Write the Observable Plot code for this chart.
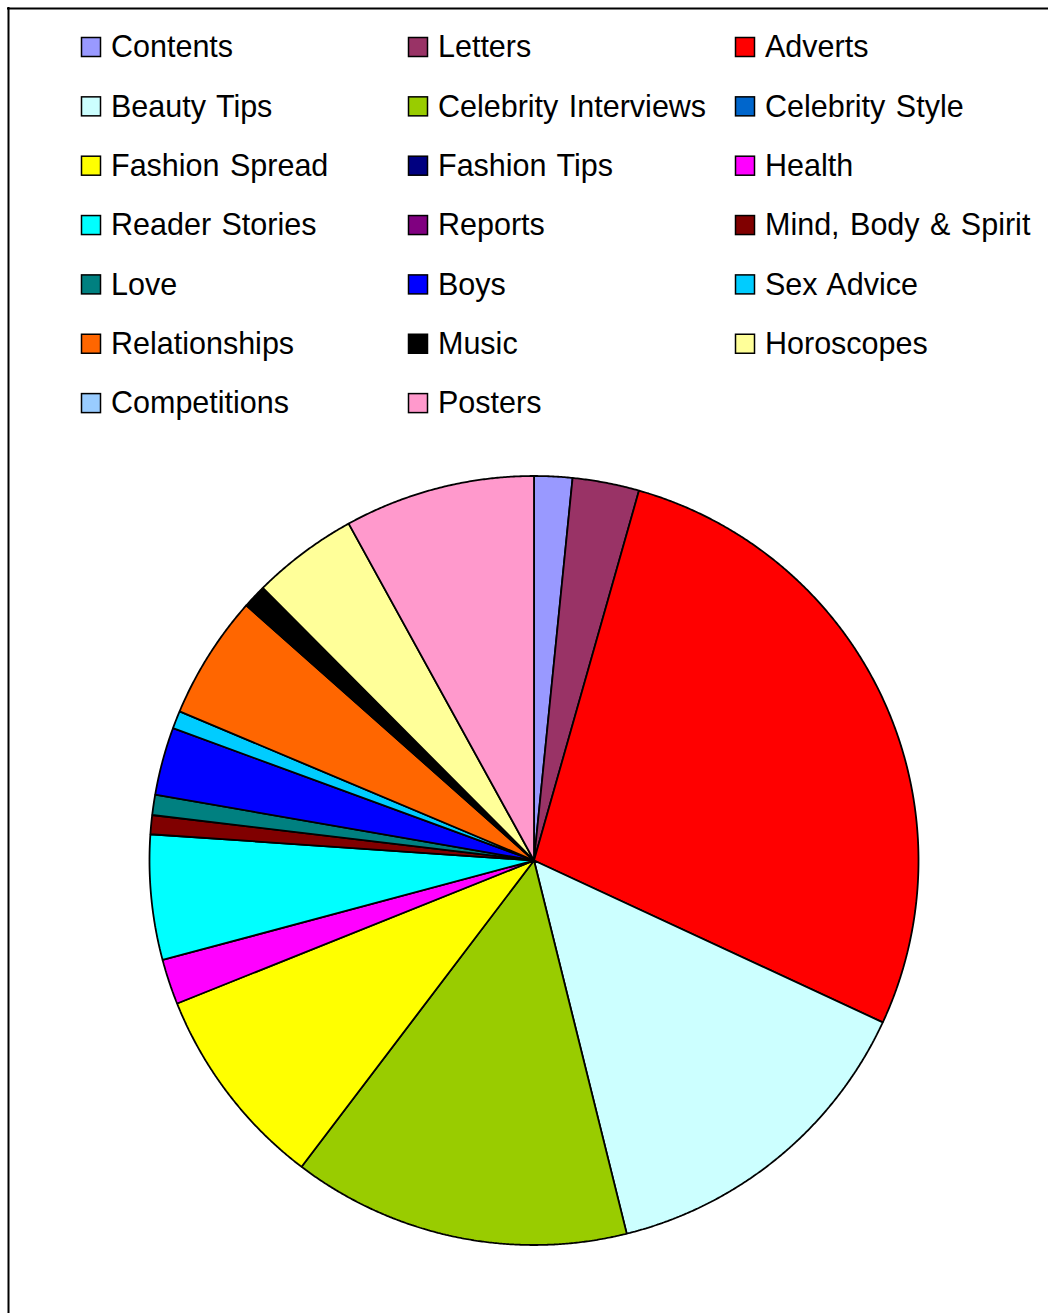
<!DOCTYPE html>
<html>
<head>
<meta charset="utf-8">
<script src="https://cdn.jsdelivr.net/npm/d3@7"></script>
<script src="https://cdn.jsdelivr.net/npm/@observablehq/plot@0.6"></script>
<style>
  html, body { margin: 0; padding: 0; background: #fff; }
  #chart svg { display: block; }
  #chart svg text { word-spacing: 2px; }
</style>
</head>
<body>
<div id="chart"></div>
<script>
// ---- data ----
const categories = [
  "Contents", "Letters", "Adverts",
  "Beauty Tips", "Celebrity Interviews", "Celebrity Style",
  "Fashion Spread", "Fashion Tips", "Health",
  "Reader Stories", "Reports", "Mind, Body & Spirit",
  "Love", "Boys", "Sex Advice",
  "Relationships", "Music", "Horoscopes",
  "Competitions", "Posters"
];
const values = [
  1.6, 2.8, 27.5,
  14.2, 14.2, 0,
  8.6, 0, 1.9,
  5.25, 0, 0.8,
  0.85, 2.85, 0.75,
  5.2, 1.0, 4.45,
  0, 8.0
];
const palette = [
  "#9999FF", "#993366", "#FF0000",
  "#CCFFFF", "#99CC00", "#0066CC",
  "#FFFF00", "#000080", "#FF00FF",
  "#00FFFF", "#800080", "#800000",
  "#008080", "#0000FF", "#00CCFF",
  "#FF6600", "#000000", "#FFFF99",
  "#99CCFF", "#FF99CC"
];

// ---- layout ----
const W = 1048, H = 1313;
const cx = 533.5, cy = 860, R = 384.5;
const font = "'Liberation Sans', Arial, sans-serif";

const table = categories.map((name, i) => ({name, value: values[i]}));
const arcs = d3.pie().sort(null).value(d => d.value)(table);

const slicePts = [];
for (const a of arcs) {
  if (a.endAngle - a.startAngle <= 0) continue;
  const name = a.data.name;
  slicePts.push({name, x: cx, y: cy});
  const n = Math.max(2, Math.ceil((a.endAngle - a.startAngle) / (Math.PI / 720)));
  for (let k = 0; k <= n; k++) {
    const t = a.startAngle + (a.endAngle - a.startAngle) * k / n;
    slicePts.push({name, x: cx + R * Math.sin(t), y: cy - R * Math.cos(t)});
  }
  slicePts.push({name, x: cx, y: cy});
}

const colSw = i => 91 + 327 * (i % 3);
const rowY = i => 47 + 59.35 * Math.floor(i / 3);
const sw = 9.5;

const chart = Plot.plot({
  width: W,
  height: H,
  margin: 0,
  x: {domain: [0, W], range: [0, W], axis: null},
  y: {domain: [0, H], range: [0, H], axis: null},
  color: {type: "ordinal", domain: categories, range: palette},
  style: {background: "#fff"},
  marks: [
    Plot.ruleX([8], {y1: 7, y2: H, stroke: "black", strokeWidth: 2}),
    Plot.ruleY([8], {x1: 7, x2: W, stroke: "black", strokeWidth: 2}),
    Plot.line(slicePts, {
      x: "x", y: "y", z: "name", fill: "name",
      stroke: "black", strokeWidth: 1.8, strokeLinejoin: "miter"
    }),
    Plot.rect(categories, {
      x1: (d, i) => colSw(i) - sw, x2: (d, i) => colSw(i) + sw,
      y1: (d, i) => rowY(i) - sw, y2: (d, i) => rowY(i) + sw,
      fill: d => d, stroke: "black", strokeWidth: 1.5
    }),
    Plot.text(categories, {
      x: (d, i) => colSw(i) + 19.5, y: (d, i) => rowY(i),
      text: d => d, textAnchor: "start", fill: "black",
      fontSize: 30.5, fontFamily: font
    })
  ]
});
document.getElementById("chart").appendChild(chart);
</script>
</body>
</html>
